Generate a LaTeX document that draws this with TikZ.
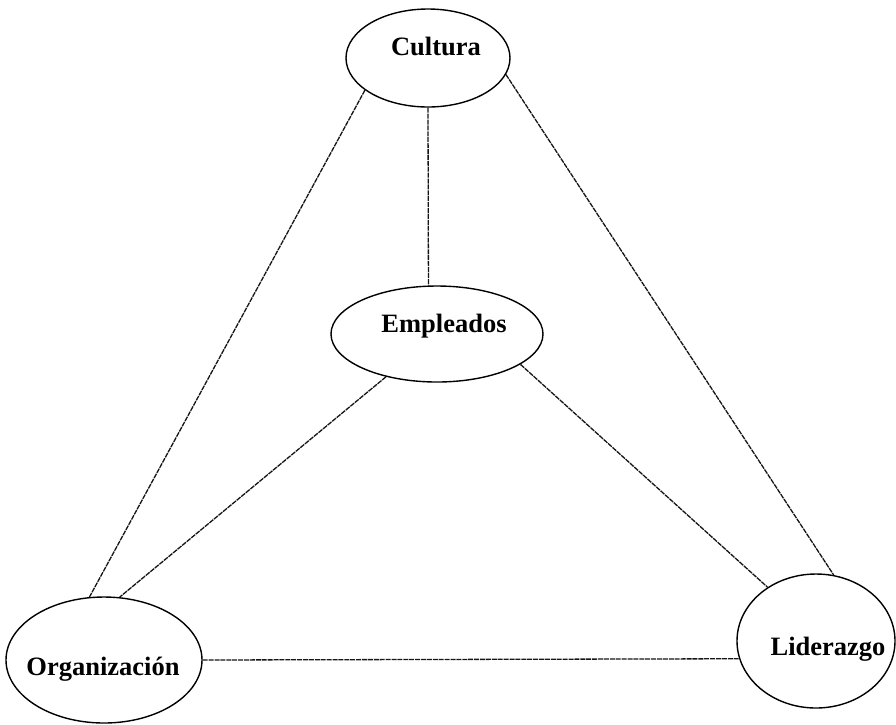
\documentclass[tikz,border=0pt]{standalone}
\usepackage{fontspec}
\setmainfont{Liberation Serif}
\usetikzlibrary{shapes.geometric}
\definecolor{linkgray}{HTML}{151515}
\tikzset{
  oval/.style={ellipse, draw=black, line width=1.4pt, inner sep=0pt, fill=white},
  caption/.style={anchor=base, inner sep=0pt, font=\fontsize{26.5}{30}\selectfont\bfseries},
  link/.style={draw=linkgray, line width=1.3pt, dash pattern=on 5pt off 0.9pt}
}
\begin{document}
\begin{tikzpicture}[x=1pt, y=-1pt]
  \useasboundingbox[fill=white] (0,0) rectangle (896,724);

  % outlines of the four concepts
  \node[oval, minimum width=164pt, minimum height=98pt]  (cultura) at (428,58)  {};
  \node[oval, minimum width=212pt, minimum height=96pt]  (empleados) at (437,334) {};
  \node[oval, minimum width=196pt, minimum height=126pt] (organizacion) at (104,660) {};
  \node[oval, minimum width=158pt, minimum height=134pt] (liderazgo) at (816,641) {};

  % names of the concepts
  \node[caption] (tcultura) at (436,55) {Cultura};
  \node[caption] (templeados) at (444,332) {Empleados};
  \node[caption] (torganizacion) at (103,675) {Organización};
  \node[caption] (tliderazgo) at (828,655) {Liderazgo};

  % relations between the concepts
  \draw[link] (cultura.207.6) -- (organizacion.103.8);
  \draw[link] (cultura.348) -- (liderazgo.75.6);
  \draw[link] (cultura.270) -- (empleados.100.6);
  \draw[link] (empleados.220) -- (organizacion.76.2);
  \draw[link] (empleados.340.6) -- (liderazgo.132.8);
  \draw[link] (organizacion.0) -- (liderazgo.193.5);
\end{tikzpicture}
\end{document}
